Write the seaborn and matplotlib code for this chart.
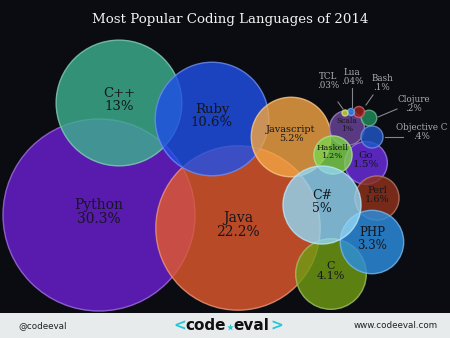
import numpy as np
import pandas as pd
import matplotlib
matplotlib.use("Agg")
import matplotlib.pyplot as plt
import seaborn as sns

# ---- data (drawing order) ----
languages = ["Python", "C++", "Java", "Ruby", "Javascript", "Scala", "Go", "Haskell",
             "Perl", "C", "PHP", "C#", "Objective C", "Clojure", "Bash", "Lua", "TCL"]
shares = [30.3, 13, 22.2, 10.6, 5.2, 1, 1.5, 1.2, 1.6, 4.1, 3.3, 5, 0.4, 0.2, 0.1, 0.04, 0.03]
share_labels = ["30.3%", "13%", "22.2%", "10.6%", "5.2%", "1%", "1.5%", "1.2%",
                "1.6%", "4.1%", "3.3%", "5%", ".4%", ".2%", ".1%", ".04%", ".03%"]
# bubble layout (pixel space of the 450x338 canvas)
pos_x = [99, 119, 238, 212, 291, 347, 366, 333, 377, 331, 372, 322, 372, 369, 359, 351, 345]
pos_y = [215, 103, 228, 119, 137, 128, 163, 155, 198, 274, 242, 205, 137, 118, 112, 112, 113]

colors = {
    "Python": "#6a1fd0", "C++": "#3cb08e", "Java": "#e0592e", "Ruby": "#1f4fe6",
    "Javascript": "#f2a443", "Scala": "#6b449c", "Go": "#6a2ee0", "Haskell": "#7ed34c",
    "Perl": "#8e3219", "C": "#6f9c12", "PHP": "#2b8ee0", "C#": "#93d6f3",
    "Objective C": "#2057c8", "Clojure": "#1e8c5c", "Bash": "#a01c1c", "Lua": "#2a7ee6",
    "TCL": "#bcd334",
}
inner_font = {"Python": 10, "C++": 9.5, "Java": 10, "Ruby": 9.5, "Javascript": 7,
              "Scala": 5.5, "Go": 7.5, "Haskell": 6, "Perl": 7, "C": 8, "PHP": 8.5, "C#": 9}
# external label positions for tiny bubbles: label (x, y), leader line start/end
outer = {
    "TCL": ((328, 81), (338, 102), (343, 109)),
    "Lua": ((352, 77), (352, 88), (352, 107)),
    "Bash": ((382, 83), (373, 95), (366, 105)),
    "Clojure": ((414, 104), (397, 109), (378, 117)),
    "Objective C": ((422, 132), (403, 137), (385, 137)),
}

df = pd.DataFrame({"language": languages, "share": shares, "label": share_labels,
                   "x": pos_x, "y": pos_y})

W, H, DPI = 450, 338, 100
BG = "#0b0b12"
fig = plt.figure(figsize=(W / DPI, H / DPI), dpi=DPI, facecolor=BG)
ax = fig.add_axes([0, 0, 1, 1])
ax.set_facecolor(BG)

# area proportional to share: Python radius ~96 px
r_max = 96
s_max = (2 * r_max * 72 / DPI) ** 2

def lighten(c, f=0.35):
    rgb = np.array(matplotlib.colors.to_rgb(c))
    return tuple(rgb + (1 - rgb) * f)

edge = [lighten(colors[l]) for l in languages]

sns.scatterplot(data=df, x="x", y="y", hue="language", palette=colors,
                size="share", sizes=(0, s_max), size_norm=(0, 30.3),
                alpha=0.82, edgecolor=edge, linewidth=1.0, legend=False, ax=ax)

ax.set_xlim(0, W)
ax.set_ylim(H, 0)
ax.axis("off")

SERIF = "DejaVu Serif"
for _, row in df.iterrows():
    lang = row["language"]
    if lang in inner_font:
        ax.text(row["x"], row["y"] - 3, f"{lang}\n{row['label']}", ha="center", va="center",
                fontsize=inner_font[lang], family=SERIF, color="#16161e", linespacing=1.05)
    elif lang in outer:
        (lx, ly), (x0, y0), (x1, y1) = outer[lang]
        ax.text(lx, ly, f"{lang}\n{row['label']}", ha="center", va="center",
                fontsize=6.3, family=SERIF, color="#aeaeb4", linespacing=1.0)
        ax.plot([x0, x1], [y0, y1], color="#85858c", lw=0.8)

ax.text(230, 20, "Most Popular Coding Languages of 2014", ha="center", va="center",
        fontsize=9.6, family=SERIF, color="#f2f2f2")

# footer
fax = fig.add_axes([0, 0, 1, 25 / H])
fax.set_xlim(0, W)
fax.set_ylim(25, 0)
fax.set_facecolor("#e8ebeb")
fax.set_xticks([]); fax.set_yticks([])
for s in fax.spines.values():
    s.set_visible(False)
fax.text(18, 13, "@codeeval", ha="left", va="center", fontsize=6.3, color="#222222")
fax.text(438, 13, "www.codeeval.com", ha="right", va="center", fontsize=6.3, color="#222222")
fax.text(180, 13, "<", ha="center", va="center", fontsize=11, fontweight="bold", color="#22c8d8")
fax.text(206, 12, "code", ha="center", va="center", fontsize=11, fontweight="bold", color="#111111")
fax.scatter([230], [14], marker="*", s=28, color="#22c8d8", linewidths=0)
fax.text(251, 12, "eval", ha="center", va="center", fontsize=11, fontweight="bold", color="#111111")
fax.text(277, 13, ">", ha="center", va="center", fontsize=11, fontweight="bold", color="#22c8d8")

fig.savefig("out.png", dpi=DPI, facecolor=BG)
